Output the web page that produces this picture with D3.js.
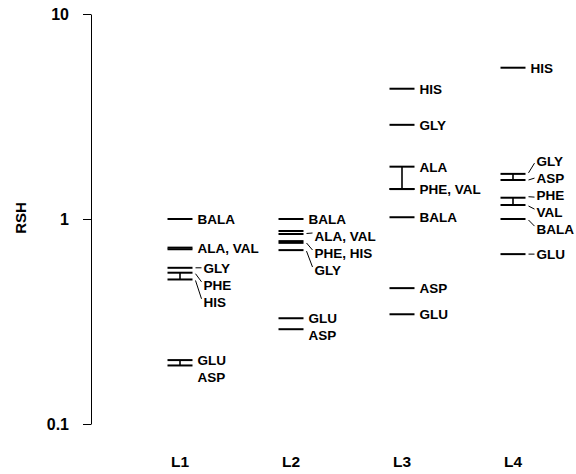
<!DOCTYPE html>
<html>
<head>
<meta charset="utf-8">
<script src="https://cdn.jsdelivr.net/npm/d3@7"></script>
<style>
	body { margin: 0; background: #fff; }
	text { font-family: 'Liberation Sans', Arial, sans-serif; font-weight: bold; fill: #000; }
	.axis path, .axis line { stroke: #000; stroke-width: 1; }
</style>
</head>
<body>
<svg id="chart" width="576" height="474"></svg>
<script>
const lanes = ['L1', 'L2', 'L3', 'L4'];
const yTicks = [0.1, 1, 10];

// RSH per amino acid, one pair of arrays per lane
const l1Names = ['BALA', 'ALA', 'VAL', 'GLY', 'PHE', 'HIS', 'GLU', 'ASP'];
const l1Values = [1.0, 0.725, 0.712, 0.578, 0.547, 0.507, 0.205, 0.193];
const l2Names = ['BALA', 'ALA', 'VAL', 'PHE', 'HIS', 'GLY', 'GLU', 'ASP'];
const l2Values = [1.0, 0.874, 0.845, 0.78, 0.765, 0.705, 0.328, 0.29];
const l3Names = ['HIS', 'GLY', 'ALA', 'PHE', 'VAL', 'BALA', 'ASP', 'GLU'];
const l3Values = [4.32, 2.88, 1.8, 1.4, 1.4, 1.02, 0.46, 0.343];
const l4Names = ['HIS', 'GLY', 'ASP', 'PHE', 'VAL', 'BALA', 'GLU'];
const l4Values = [5.47, 1.66, 1.55, 1.27, 1.17, 1.0, 0.674];

// labels (names sharing one label) and brackets joining two values
const l1Labels = [['BALA'], ['ALA', 'VAL'], ['GLY'], ['PHE'], ['HIS'], ['GLU'], ['ASP']];
const l2Labels = [['BALA'], ['ALA', 'VAL'], ['PHE', 'HIS'], ['GLY'], ['GLU'], ['ASP']];
const l3Labels = [['HIS'], ['GLY'], ['ALA'], ['PHE', 'VAL'], ['BALA'], ['ASP'], ['GLU']];
const l4Labels = [['HIS'], ['GLY'], ['ASP'], ['PHE'], ['VAL'], ['BALA'], ['GLU']];
const l1Brackets = [['PHE', 'HIS'], ['GLU', 'ASP']];
const l2Brackets = [];
const l3Brackets = [['ALA', 'PHE']];
const l4Brackets = [['GLY', 'ASP'], ['PHE', 'VAL']];

const laneData = [
	{lane: 'L1', names: l1Names, values: l1Values, labels: l1Labels, brackets: l1Brackets},
	{lane: 'L2', names: l2Names, values: l2Values, labels: l2Labels, brackets: l2Brackets},
	{lane: 'L3', names: l3Names, values: l3Values, labels: l3Labels, brackets: l3Brackets},
	{lane: 'L4', names: l4Names, values: l4Values, labels: l4Labels, brackets: l4Brackets}
];

// label layout: which labels get a leader line, and how crowded labels are spread
const leaders = {
	L1: ['GLY', 'PHE', 'HIS'],
	L2: ['ALA, VAL', 'PHE, HIS', 'GLY'],
	L3: [],
	L4: ['GLY', 'ASP', 'PHE', 'VAL', 'BALA', 'GLU']
};
const spreadMode = {L1: 'down', L2: 'down', L3: 'down', L4: 'center'};
const labelGap = 17;

const svg = d3.select('#chart');
const y = d3.scaleLog().domain([0.1, 10]).range([424, 14]);
const x = d3.scalePoint().domain(lanes).range([180, 513]);
const half = 12.5;

const axis = svg.append('g')
	.attr('class', 'axis')
	.attr('transform', 'translate(91,0)')
	.call(d3.axisLeft(y).tickValues(yTicks).tickFormat(d3.format('')).tickSize(8).tickSizeOuter(0).tickPadding(14));
axis.selectAll('text').style('font-size', '16px');

svg.append('text')
	.attr('transform', 'translate(26,218) rotate(-90)')
	.attr('text-anchor', 'middle')
	.style('font-size', '15px')
	.text('RSH');

svg.selectAll('.laneLabel')
	.data(lanes)
	.enter().append('text')
	.attr('class', 'laneLabel')
	.attr('x', (d) => x(d))
	.attr('y', 467)
	.attr('text-anchor', 'middle')
	.style('font-size', '15.5px')
	.text((d) => d);

function layoutLabels(items, mode) {
	items.sort((a, b) => a.anchor - b.anchor);
	if (mode === 'down') {
		let prev = -Infinity;
		items.forEach((it) => {
			it.ly = Math.max(it.anchor, prev + labelGap);
			prev = it.ly;
		});
		return;
	}
	// centre each crowded cluster on its anchors
	let clusters = items.map((it) => [it]);
	let merged = true;
	while (merged) {
		merged = false;
		clusters.forEach((c) => {
			let mean = d3.mean(c, (it) => it.anchor);
			c.forEach((it, i) => { it.ly = mean + (i - (c.length - 1) / 2) * labelGap; });
		});
		for (let i = 0; i < clusters.length - 1; i++) {
			let a = clusters[i], b = clusters[i + 1];
			if (b[0].ly - a[a.length - 1].ly < labelGap) {
				clusters.splice(i, 2, a.concat(b));
				merged = true;
				break;
			}
		}
	}
}

laneData.forEach((ld) => {
	let cx = x(ld.lane);
	let g = svg.append('g').attr('class', 'lane ' + ld.lane);
	let valueOf = (name) => ld.values[ld.names.indexOf(name)];

	g.selectAll('line.level')
		.data(ld.values)
		.enter().append('line')
		.attr('class', 'level')
		.attr('x1', cx - half)
		.attr('x2', cx + half)
		.attr('y1', (d) => y(d))
		.attr('y2', (d) => y(d))
		.attr('stroke', '#000')
		.attr('stroke-width', 2);

	g.selectAll('line.bracket')
		.data(ld.brackets)
		.enter().append('line')
		.attr('class', 'bracket')
		.attr('x1', cx)
		.attr('x2', cx)
		.attr('y1', (d) => y(valueOf(d[0])))
		.attr('y2', (d) => y(valueOf(d[1])))
		.attr('stroke', '#000')
		.attr('stroke-width', 1.6);

	let items = ld.labels.map((names) => {
		let text = names.join(', ');
		return {
			text: text,
			anchor: d3.mean(names, (n) => y(valueOf(n))),
			leader: leaders[ld.lane].indexOf(text) >= 0
		};
	});
	layoutLabels(items, spreadMode[ld.lane]);

	items.forEach((it) => {
		let lx = cx + half + (it.leader ? 11 : 5);
		if (it.leader) {
			g.append('line')
				.attr('x1', cx + half + 3)
				.attr('y1', it.anchor + (it.ly > it.anchor + 2 ? 1 : it.ly < it.anchor - 2 ? -1 : 0))
				.attr('x2', lx - 2)
				.attr('y2', it.ly + (it.ly > it.anchor + 2 ? -3 : it.ly < it.anchor - 2 ? 2 : 0))
				.attr('stroke', '#000')
				.attr('stroke-width', 1);
		}
		g.append('text')
			.attr('x', lx)
			.attr('y', it.ly)
			.attr('dy', '0.36em')
			.style('font-size', '13.5px')
			.text(it.text);
	});
});
</script>
</body>
</html>
